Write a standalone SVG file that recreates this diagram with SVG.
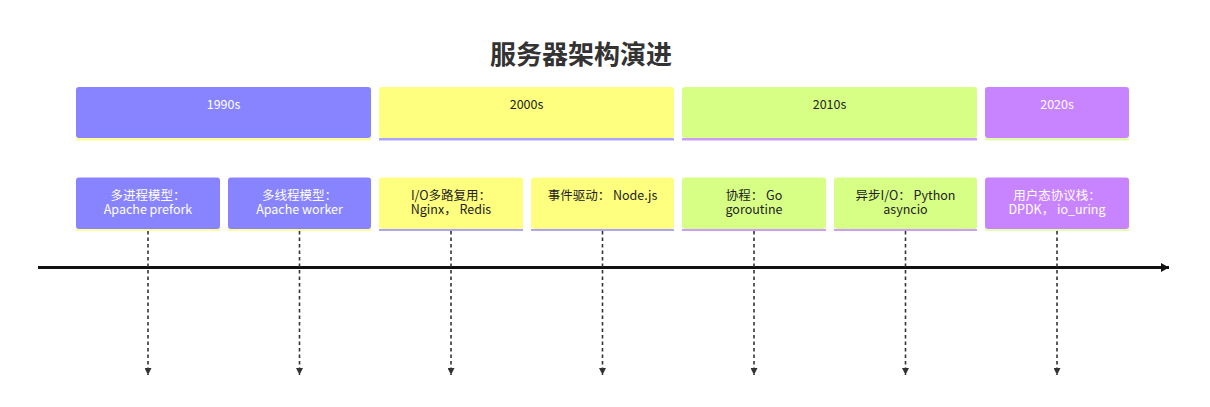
<svg xmlns="http://www.w3.org/2000/svg" width="1210" height="407" viewBox="0 0 1210 407">
<style>
text{font-family:"Microsoft YaHei","Noto Sans CJK SC","Liberation Sans",sans-serif;font-size:12.5px;text-anchor:middle;}
.title{font-size:26px;font-weight:bold;fill:#333;}
.w{fill:#ffffff;}
.d{fill:#222222;}
.c1{fill:#8884ff;}
.c2{fill:#feff7e;}
.c3{fill:#d7ff86;}
.c4{fill:#c884ff;}
.dash{stroke:#333;stroke-width:1.6;stroke-dasharray:3.5 3;fill:none;}
</style>
<defs>
<marker id="ah" markerWidth="8" markerHeight="9" refX="8" refY="4.5" orient="auto" markerUnits="userSpaceOnUse">
<path d="M0,0 L8,4.5 L0,9 Z" fill="#111"/>
</marker>
<marker id="dh" markerWidth="7" markerHeight="7" refX="7" refY="3.5" orient="auto" markerUnits="userSpaceOnUse">
<path d="M0,0 L7,3.5 L0,7 Z" fill="#333"/>
</marker>
</defs>
<rect width="1210" height="407" fill="#ffffff"/>
<text class="title" x="581" y="64">服务器架构演进</text>

<g id="p1990"><rect x="76" y="138" width="295" height="2.5" fill="#ffff9a"/><rect class="c1" x="76" y="87" width="295" height="51" rx="3"/><text class="w" x="223.5" y="109">1990s</text></g>
<g id="p2000"><rect x="379" y="138" width="295" height="2.5" fill="#aaa6ff"/><rect class="c2" x="379" y="87" width="295" height="51" rx="3"/><text class="d" x="526.5" y="109">2000s</text></g>
<g id="p2010"><rect x="682" y="138" width="295" height="2.5" fill="#cc9cff"/><rect class="c3" x="682" y="87" width="295" height="51" rx="3"/><text class="d" x="829.5" y="109">2010s</text></g>
<g id="p2020"><rect x="985" y="138" width="144" height="2.5" fill="#e2ffaa"/><rect class="c4" x="985" y="87" width="144" height="51" rx="3"/><text class="w" x="1057" y="109">2020s</text></g>

<g id="t1"><rect x="76" y="229" width="144" height="2" fill="#ffff9a"/><rect class="c1" x="76" y="177.5" width="144" height="51.5" rx="3"/><text class="w" x="148" y="200">多进程模型：</text><text class="w" x="148" y="213.5">Apache prefork</text></g>
<g id="t2"><rect x="228" y="229" width="143" height="2" fill="#ffff9a"/><rect class="c1" x="228" y="177.5" width="143" height="51.5" rx="3"/><text class="w" x="299.5" y="200">多线程模型：</text><text class="w" x="299.5" y="213.5">Apache worker</text></g>
<g id="t3"><rect x="379" y="229" width="144" height="2" fill="#aaa6ff"/><rect class="c2" x="379" y="177.5" width="144" height="51.5" rx="3"/><text class="d" x="451" y="200">I/O多路复用：</text><text class="d" x="451" y="213.5">Nginx， Redis</text></g>
<g id="t4"><rect x="531" y="229" width="143" height="2" fill="#aaa6ff"/><rect class="c2" x="531" y="177.5" width="143" height="51.5" rx="3"/><text class="d" x="602.5" y="200">事件驱动： Node.js</text></g>
<g id="t5"><rect x="682" y="229" width="144" height="2" fill="#cc9cff"/><rect class="c3" x="682" y="177.5" width="144" height="51.5" rx="3"/><text class="d" x="754" y="200">协程： Go</text><text class="d" x="754" y="213.5">goroutine</text></g>
<g id="t6"><rect x="834" y="229" width="143" height="2" fill="#cc9cff"/><rect class="c3" x="834" y="177.5" width="143" height="51.5" rx="3"/><text class="d" x="905.5" y="200">异步I/O： Python</text><text class="d" x="905.5" y="213.5">asyncio</text></g>
<g id="t7"><rect x="985" y="229" width="144" height="2" fill="#e2ffaa"/><rect class="c4" x="985" y="177.5" width="144" height="51.5" rx="3"/><text class="w" x="1057" y="200">用户态协议栈：</text><text class="w" x="1057" y="213.5">DPDK， io_uring</text></g>

<g id="connectors">
<line x1="38" y1="267.5" x2="1169" y2="267.5" stroke="#111" stroke-width="3" marker-end="url(#ah)"/>
<line class="dash" x1="148" y1="231" x2="148" y2="375" marker-end="url(#dh)"/>
<line class="dash" x1="299.5" y1="231" x2="299.5" y2="375" marker-end="url(#dh)"/>
<line class="dash" x1="451" y1="231" x2="451" y2="375" marker-end="url(#dh)"/>
<line class="dash" x1="602.5" y1="231" x2="602.5" y2="375" marker-end="url(#dh)"/>
<line class="dash" x1="754" y1="231" x2="754" y2="375" marker-end="url(#dh)"/>
<line class="dash" x1="905.5" y1="231" x2="905.5" y2="375" marker-end="url(#dh)"/>
<line class="dash" x1="1057" y1="231" x2="1057" y2="375" marker-end="url(#dh)"/>
</g>
</svg>
